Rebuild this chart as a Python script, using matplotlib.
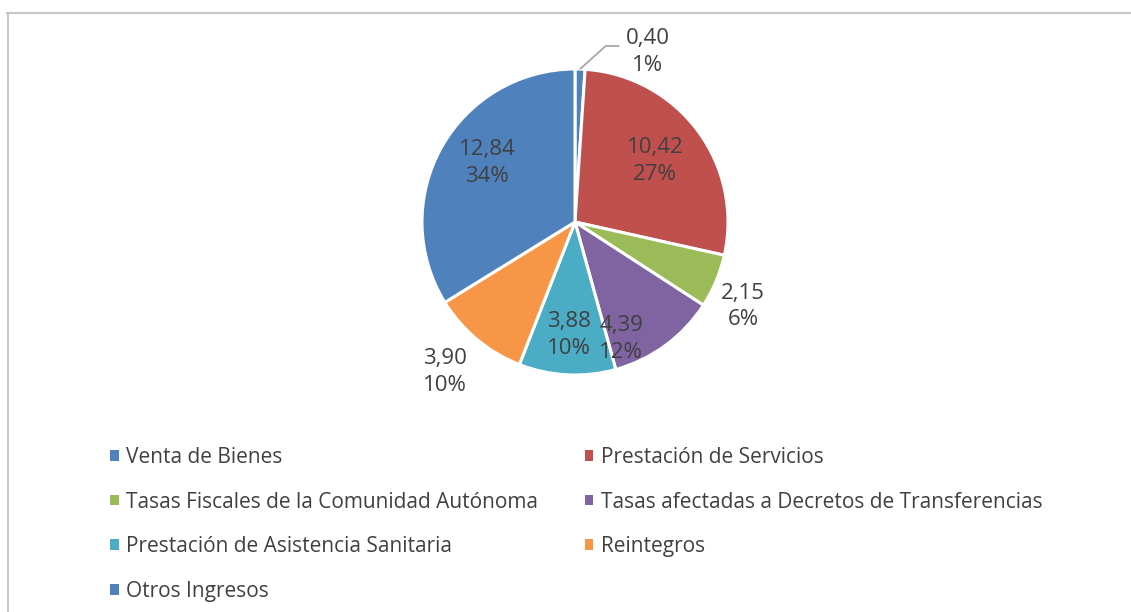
import numpy as np
import matplotlib
matplotlib.use("Agg")
import matplotlib.pyplot as plt
from matplotlib.lines import Line2D

categories = [
    "Venta de Bienes",
    "Prestación de Servicios",
    "Tasas Fiscales de la Comunidad Autónoma",
    "Tasas afectadas a Decretos de Transferencias",
    "Prestación de Asistencia Sanitaria",
    "Reintegros",
    "Otros Ingresos",
]
values = [0.40, 10.42, 2.15, 4.39, 3.88, 3.90, 12.84]
percent_labels = ["1%", "27%", "6%", "12%", "10%", "10%", "34%"]

colors = ["#4F81BD", "#C0504D", "#9BBB59", "#8064A2", "#4BACC6", "#F79646", "#4F81BD"]
# label placement per slice: (angle shift from wedge middle in degrees, radius)
label_place = [(-21.3, 1.21), (0.5, 0.66), (-3.9, 1.23), (-14.7, 0.82),
               (0, 0.74), (-1.1, 1.30), (-4.8, 0.69)]

W, H = 1131, 612
plt.rcParams["font.family"] = ["Open Sans", "DejaVu Sans"]
text_color = "#404040"

fig = plt.figure(figsize=(W / 100, H / 100), dpi=100)

# pie axes: centre (575, 222) px from top, radius 153 px -> limits +-1.5
cx, cy, R = 575, 222, 153
S = 3 * R
ax = fig.add_axes([(cx - S / 2) / W, (H - cy - S / 2) / H, S / W, S / H])

wedges, _ = ax.pie(values, colors=colors, startangle=90, counterclock=False,
                   radius=1.0, wedgeprops=dict(edgecolor="white", linewidth=2.2))
ax.set_xlim(-1.5, 1.5)
ax.set_ylim(-1.5, 1.5)
ax.set_aspect("equal")
ax.axis("off")

for i, w in enumerate(wedges):
    mid = (w.theta1 + w.theta2) / 2
    shift, r = label_place[i]
    ang = np.deg2rad(mid + shift)
    x, y = r * np.cos(ang), r * np.sin(ang)
    txt = f"{values[i]:.2f}".replace(".", ",") + "\n" + percent_labels[i]
    ax.text(x, y, txt, ha="center", va="center", fontsize=16,
            color=text_color, linespacing=1.36)
    if i == 0:
        a0 = np.deg2rad(mid)
        ax.plot([1.0 * np.cos(a0), 0.2, 0.29], [1.0 * np.sin(a0), 1.15, 1.15],
                color="#A6A6A6", lw=1.3, solid_capstyle="butt")

# legend, two columns filled row by row as in the reference
order = [0, 2, 4, 6, 1, 3, 5]
handles = [wedges[i] for i in order]
labels = [categories[i] for i in order]
leg = fig.legend(handles, labels, ncol=2, loc="upper left",
                 bbox_to_anchor=(91 / W, 1 - 428 / H), frameon=False,
                 fontsize=15, handlelength=0.42, handleheight=0.42,
                 handletextpad=0.35, labelspacing=1.14, columnspacing=2.25,
                 labelcolor=text_color)
for p in leg.get_patches():
    p.set_edgecolor("none")

# chart border (left and top visible)
border = "#C8C8C8"
fig.add_artist(Line2D([7.5 / W, 7.5 / W], [0, 1 - 12.5 / H], color=border, lw=1.5))
fig.add_artist(Line2D([7 / W, 1], [1 - 12.5 / H, 1 - 12.5 / H], color=border, lw=1.5))

fig.savefig("out.png", dpi=100)
